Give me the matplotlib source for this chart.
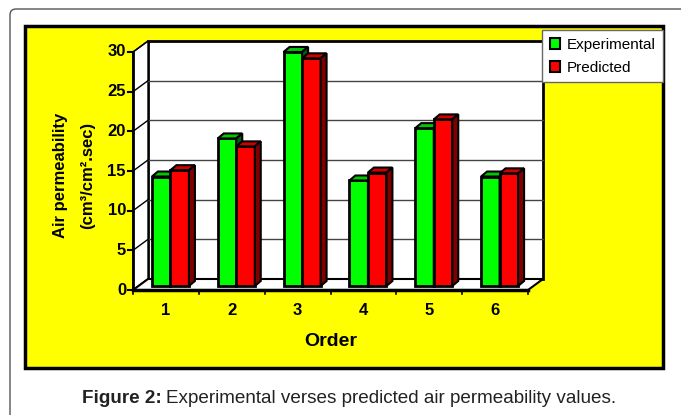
import numpy as np
import matplotlib
matplotlib.use("Agg")
import matplotlib.pyplot as plt
from matplotlib.patches import Polygon, Rectangle, FancyBboxPatch, Patch

plt.rcParams['font.family'] = ['Liberation Sans', 'DejaVu Sans']

# data
orders = [1, 2, 3, 4, 5, 6]
experimental = [13.8, 18.6, 29.5, 13.3, 19.9, 13.8]
predicted = [14.6, 17.6, 28.7, 14.3, 21.0, 14.2]
y_ticks = [0, 5, 10, 15, 20, 25, 30]

W, H = 681, 415
fig = plt.figure(figsize=(W / 100, H / 100), dpi=100)

# background canvas in pixel coords
bg = fig.add_axes([0, 0, 1, 1])
bg.set_xlim(0, W)
bg.set_ylim(H, 0)
bg.axis('off')
bg.add_patch(FancyBboxPatch((10, 9), 700, 440, boxstyle="round,pad=0,rounding_size=6",
                            fc='white', ec='#555555', lw=1.0))
bg.add_patch(Rectangle((25, 26), 638, 342, fc='#FFFF00', ec='black', lw=2.5))

# caption: bold lead + regular text, placed side by side
renderer = fig.canvas.get_renderer()
cap1 = bg.text(82, 398, "Figure 2:", fontsize=13.6, fontweight='bold', color='#222222',
               va='center', ha='left')
w1 = cap1.get_window_extent(renderer).width
bg.text(82 + w1 + 4, 398, "Experimental verses predicted air permeability values.",
        fontsize=13.6, color='#222222', va='center', ha='left')

# front plane of the 3d box
x0, x1, ytop, ybot = 133, 528, 52, 290
ax = fig.add_axes([x0 / W, 1 - ybot / H, (x1 - x0) / W, (ybot - ytop) / H])
ax.set_xlim(0.5, 6.5)
ax.set_ylim(0, 30)
ax.axis('off')
ax.patch.set_alpha(0)

px = 6 / (x1 - x0)
py = 30 / (ybot - ytop)
DX, DY = 15 * px, 11 * py  # wall depth

# back wall and left wall
ax.add_patch(Polygon([(0.5 + DX, DY), (6.5 + DX, DY), (6.5 + DX, 30 + DY), (0.5 + DX, 30 + DY)],
                     closed=True, fc='white', ec='black', lw=2, clip_on=False, zorder=1))
ax.add_patch(Polygon([(0.5, 0), (0.5 + DX, DY), (0.5 + DX, 30 + DY), (0.5, 30)],
                     closed=True, fc='white', ec='black', lw=1, clip_on=False, zorder=1))
for t in y_ticks[1:-1]:
    ax.plot([0.5 + DX, 6.5 + DX], [t + DY, t + DY], color='#444444', lw=1, zorder=2, clip_on=False)
for t in y_ticks:
    ax.plot([0.5, 0.5 + DX], [t, t + DY], color='black', lw=1, zorder=2, clip_on=False)
# floor
ax.add_patch(Polygon([(0.5, 0), (6.5, 0), (6.5 + DX, DY), (0.5 + DX, DY)],
                     closed=True, fc='white', ec='black', lw=1.5, clip_on=False, zorder=2))
ax.plot([0.5, 6.5], [0, 0], color='black', lw=2.5, zorder=3, clip_on=False)
ax.plot([0.5, 0.5], [0, 30], color='black', lw=2, zorder=3, clip_on=False)

# axis ticks and labels
for t in y_ticks:
    ax.plot([0.5 - 5 * px, 0.5], [t, t], color='black', lw=1.5, zorder=3, clip_on=False)
    ax.text(0.5 - 7 * px, t, str(t), ha='right', va='center', fontsize=12, fontweight='bold')
for k in range(7):
    ax.plot([0.5 + k, 0.5 + k], [0, -4 * py], color='black', lw=1.2, zorder=3, clip_on=False)
for o in orders:
    ax.text(o, -20 * py, str(o), ha='center', va='center', fontsize=12, fontweight='bold')
ax.text(3.5, -51 * py, "Order", ha='center', va='center', fontsize=14, fontweight='bold')
bg.text(61, 175, "Air permeability", rotation=90, ha='center', va='center',
        fontsize=12, fontweight='bold')
bg.text(88, 175, "(cm\u00b3/cm\u00b2.sec)", rotation=90, ha='center', va='center',
        fontsize=12, fontweight='bold')

# 3d bars
bw = 18.5 * px
bx, by = 4.5 * px, 4 * py
ddx, ddy = 6 * px, 5 * py


def bar3d(left, val, front, top, side, z):
    b = by
    t = by + val
    r = left + bw
    ax.add_patch(Polygon([(left, b), (r, b), (r, t), (left, t)], closed=True,
                         fc=front, ec='black', lw=2, zorder=z, clip_on=False))
    ax.add_patch(Polygon([(left, t), (r, t), (r + ddx, t + ddy), (left + ddx, t + ddy)], closed=True,
                         fc=top, ec='black', lw=1.5, zorder=z, clip_on=False))
    ax.add_patch(Polygon([(r, b), (r + ddx, b + ddy), (r + ddx, t + ddy), (r, t)], closed=True,
                         fc=side, ec='black', lw=1.5, zorder=z, clip_on=False))


for i, o in enumerate(orders):
    c = o + bx
    bar3d(c - bw, experimental[i], '#00FF00', '#00C800', '#006000', 5 + 2 * i)
    bar3d(c, predicted[i], '#FF0000', '#D00000', '#800000', 6 + 2 * i)

handles = [Patch(fc='#00FF00', ec='black', lw=1.5), Patch(fc='#FF0000', ec='black', lw=1.5)]
fig.legend(handles, ['Experimental', 'Predicted'], loc='upper right',
           bbox_to_anchor=(663 / W, 1 - 30 / H), borderaxespad=0, fancybox=False,
           edgecolor='#666666', framealpha=1, fontsize=11, handlelength=0.7,
           handleheight=0.7, handletextpad=0.4, labelspacing=0.6, borderpad=0.5)

fig.savefig("out.png", dpi=100)
